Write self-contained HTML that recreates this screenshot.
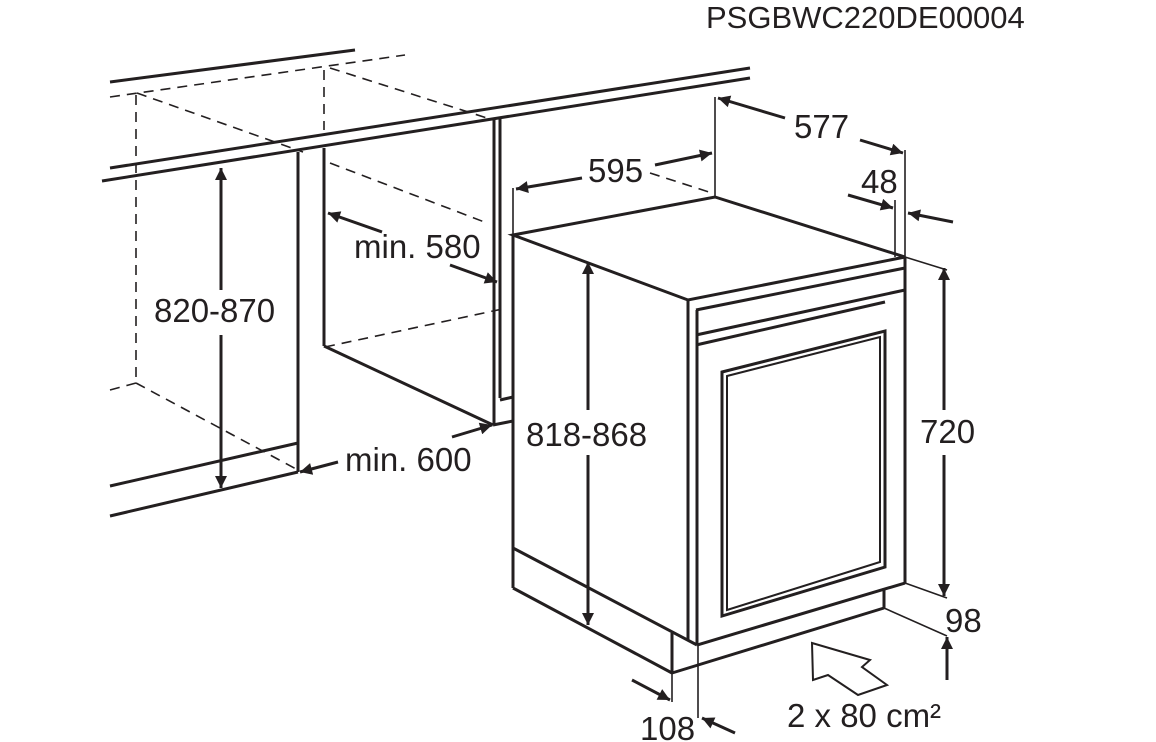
<!DOCTYPE html>
<html><head><style>body{margin:0;background:#fff}svg{display:block}text{font-family:"Liberation Sans",sans-serif;fill:#231f20}</style></head>
<body>
<svg width="1156" height="742" viewBox="0 0 1156 742" xmlns="http://www.w3.org/2000/svg">
<defs>
<marker id="a" viewBox="0 0 10 10" refX="10" refY="5" markerWidth="20" markerHeight="12" markerUnits="userSpaceOnUse" orient="auto"><path d="M0,0L10,5L0,10z" fill="#231f20"/></marker>
</defs>
<g stroke="#231f20" fill="none" stroke-width="3">
<line x1="110" y1="82" x2="355" y2="50"/>
<line x1="110" y1="168" x2="750" y2="68"/>
<line x1="102" y1="181" x2="750" y2="78"/>
<line x1="298" y1="152" x2="298" y2="472"/>
<line x1="324" y1="148" x2="324" y2="346"/>
<line x1="324" y1="346" x2="493" y2="425"/>
<line x1="494" y1="118" x2="494" y2="425"/>
<line x1="500" y1="118" x2="500" y2="398"/>
<line x1="500" y1="400" x2="513" y2="397"/>
<line x1="110" y1="486" x2="298" y2="443"/>
<line x1="110" y1="516" x2="298" y2="472"/>
<line x1="493" y1="425" x2="513" y2="421"/>
<polygon points="513,235 715,197 905,257 688,300"/>
<line x1="513" y1="235" x2="513" y2="588"/>
<line x1="696" y1="310" x2="905" y2="268"/>
<line x1="696" y1="335" x2="905" y2="290"/>
<line x1="696" y1="345" x2="885" y2="302"/>
<line x1="905" y1="257" x2="905" y2="583"/>
<line x1="688" y1="300" x2="688" y2="640"/>
<line x1="697" y1="310" x2="697" y2="645"/>
<polygon points="722,372 885,331 885,567 722,616"/>
<polygon points="727,376 880,337 880,562 727,610" stroke-width="2"/>
<line x1="513" y1="548" x2="697" y2="645"/>
<line x1="697" y1="645" x2="905" y2="583"/>
<line x1="513" y1="588" x2="672" y2="673"/>
<line x1="672" y1="633" x2="672" y2="673"/>
<line x1="672" y1="673" x2="884" y2="608"/>
<line x1="884" y1="588" x2="884" y2="608"/>
</g>
<g stroke="#231f20" fill="none" stroke-width="1.6" stroke-dasharray="10,7">
<line x1="110" y1="97" x2="405" y2="55"/>
<line x1="136" y1="95" x2="136" y2="383"/>
<line x1="137" y1="93" x2="303" y2="152"/>
<line x1="330" y1="163" x2="487" y2="223"/>
<line x1="324" y1="70" x2="324" y2="130"/>
<line x1="330" y1="68" x2="487" y2="118"/>
<line x1="650" y1="173" x2="712" y2="193"/>
<line x1="110" y1="390" x2="136" y2="383"/>
<line x1="136" y1="383" x2="298" y2="470"/>
<line x1="325" y1="347" x2="507" y2="308"/>
</g>
<g stroke="#231f20" fill="none" stroke-width="1.6">
<line x1="513" y1="188" x2="513" y2="235"/>
<line x1="715" y1="97" x2="715" y2="197"/>
<line x1="905" y1="150" x2="905" y2="257"/>
<line x1="895" y1="200" x2="895" y2="257"/>
<line x1="905" y1="257" x2="947" y2="270"/>
<line x1="905" y1="583" x2="947" y2="598"/>
<line x1="884" y1="608" x2="947" y2="636"/>
<line x1="672" y1="673" x2="672" y2="702"/>
<line x1="698" y1="645" x2="698" y2="718"/>
<polygon points="812,643 870,660 862,667 887,685 858,695 828,675 813,680" stroke-width="2"/>
</g>
<g stroke="#231f20" fill="none" stroke-width="3" marker-end="url(#a)">
<line x1="221" y1="290" x2="221" y2="168"/>
<line x1="221" y1="335" x2="221" y2="488"/>
<line x1="588" y1="410" x2="588" y2="262"/>
<line x1="588" y1="455" x2="588" y2="625"/>
<line x1="944" y1="410" x2="944" y2="268"/>
<line x1="944" y1="455" x2="944" y2="596"/>
<line x1="947" y1="680" x2="947" y2="637"/>
<line x1="582" y1="178" x2="516" y2="189"/>
<line x1="655" y1="165" x2="712" y2="153"/>
<line x1="785" y1="118" x2="718" y2="98"/>
<line x1="860" y1="140" x2="903" y2="153"/>
<line x1="848" y1="195" x2="893" y2="208"/>
<line x1="953" y1="222" x2="908" y2="213"/>
<line x1="382" y1="232" x2="328" y2="213"/>
<line x1="450" y1="265" x2="497" y2="282"/>
<line x1="338" y1="462" x2="300" y2="472"/>
<line x1="452" y1="437" x2="492" y2="425"/>
<line x1="632" y1="680" x2="670" y2="700"/>
<line x1="735" y1="733" x2="702" y2="718"/>
</g>
<g font-size="33">
<text x="706" y="28" font-size="31">PSGBWC220DE00004</text>
<text x="154" y="322">820-870</text>
<text x="354" y="258">min. 580</text>
<text x="345" y="471">min. 600</text>
<text x="588" y="182">595</text>
<text x="794" y="138">577</text>
<text x="861" y="193">48</text>
<text x="526" y="446">818-868</text>
<text x="920" y="443">720</text>
<text x="945" y="632">98</text>
<text x="640" y="740">108</text>
<text x="787" y="727">2 x 80 cm²</text>
</g>
</svg>
</body></html>
